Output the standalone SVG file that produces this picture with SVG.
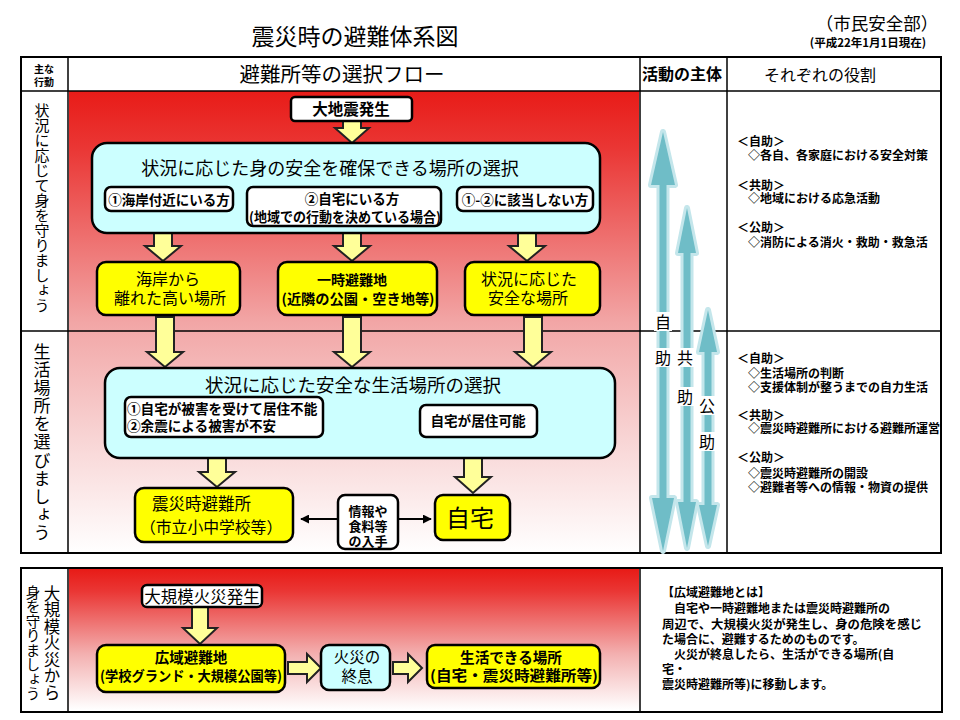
<svg xmlns="http://www.w3.org/2000/svg" width="960" height="720" viewBox="0 0 960 720">
<defs>
<linearGradient id="gTop" gradientUnits="userSpaceOnUse" x1="0" y1="92" x2="0" y2="553">
<stop offset="0" stop-color="#e81c18"/>
<stop offset="0.12" stop-color="#ea3634"/>
<stop offset="0.5" stop-color="#f2a6a6"/>
<stop offset="0.75" stop-color="#f8d4d4"/>
<stop offset="1" stop-color="#ffffff"/>
</linearGradient>
<linearGradient id="gBot" gradientUnits="userSpaceOnUse" x1="0" y1="570" x2="0" y2="710">
<stop offset="0" stop-color="#e81c18"/>
<stop offset="0.15" stop-color="#ea3634"/>
<stop offset="0.6" stop-color="#f3b0b0"/>
<stop offset="1" stop-color="#ffffff"/>
</linearGradient>
<clipPath id="clipRole"><rect x="727" y="330" width="213" height="223"/></clipPath>
<marker id="ah" viewBox="0 0 10 10" refX="9" refY="5" markerWidth="9" markerHeight="9" markerUnits="userSpaceOnUse" orient="auto">
<path d="M0,0 L10,5 L0,10 Z" fill="#000"/>
</marker>
</defs>
<style>
text{font-family:"Noto Sans CJK JP","Noto Sans CJK SC",sans-serif;fill:#000}
.b{font-weight:bold}
.grid{fill:none;stroke:#000;stroke-width:2}
.ln{stroke:#000;stroke-width:1.5}
.cyan{fill:#ccffff;stroke:#000;stroke-width:2.5}
.wbox{fill:#fff;stroke:#000;stroke-width:2.5}
.ybox{fill:#ffff00;stroke:#000;stroke-width:2.5}
.yarr{fill:#ffff99;stroke:#222;stroke-width:2;stroke-linejoin:miter}
.tglow{fill:#c4e6eb;stroke:#c4e6eb;stroke-width:6;stroke-linejoin:round}
.tarr{fill:#6fbdc7}
.tshaft{stroke:#6fbdc7;stroke-width:7}
.tshaftg{stroke:#c4e6eb;stroke-width:13}
.role{font-size:12px;font-weight:bold}
.vt{writing-mode:tb}
</style>

<!-- title -->
<text x="355" y="45" font-size="23" text-anchor="middle">震災時の避難体系図</text>
<text x="877" y="30" font-size="17.5" text-anchor="middle">（市民安全部）</text>
<text x="868" y="47" font-size="11.5" class="b" text-anchor="middle">(平成22年1月1日現在)</text>

<!-- backgrounds -->
<rect x="69" y="91" width="570" height="462" fill="url(#gTop)"/>
<rect x="69" y="569" width="570" height="142" fill="url(#gBot)"/>

<!-- main table -->
<g id="table">
<rect class="grid" x="21" y="57" width="920" height="496"/>
<line class="ln" x1="21" y1="91" x2="941" y2="91"/>
<line class="ln" x1="21" y1="331" x2="941" y2="331"/>
<line class="ln" x1="68" y1="57" x2="68" y2="553"/>
<line class="ln" x1="640" y1="57" x2="640" y2="553"/>
<line class="ln" x1="727" y1="57" x2="727" y2="553"/>
<rect class="grid" x="21" y="568" width="921" height="144"/>
<line class="ln" x1="68" y1="568" x2="68" y2="712"/>
<line class="ln" x1="640" y1="568" x2="640" y2="712"/>
</g>

<!-- headers -->
<g id="headers">
<text x="44" y="73" font-size="10" class="b" text-anchor="middle">主な</text>
<text x="44" y="86" font-size="10" class="b" text-anchor="middle">行動</text>
<text x="342" y="82" font-size="20.5" text-anchor="middle">避難所等の選択フロー</text>
<text x="682" y="80" font-size="16" class="b" text-anchor="middle">活動の主体</text>
<text x="820" y="81" font-size="16" text-anchor="middle">それぞれの役割</text>
</g>

<!-- row labels -->
<g id="rowlabels">
<text class="vt" x="42" y="103" font-size="15">状況に応じて身を守りましょう</text>
<text class="vt" x="42" y="343" font-size="17" letter-spacing="1.1">生活場所を選びましょう</text>
<text class="vt" x="52" y="585" font-size="16.5">大規模火災から</text>
<text class="vt" x="33" y="585" font-size="14.5">身を守りましょう</text>
</g>

<!-- connectors -->
<g id="connectors">
<path class="yarr" d="M343,121 H361 V128 H369 L352,143 L335,128 H343 Z"/>
<path class="yarr" d="M154,213 H172 V246 H181 L163,261 L145,246 H154 Z"/>
<path class="yarr" d="M343,228 H361 V246 H370 L352,261 L334,246 H343 Z"/>
<path class="yarr" d="M518,213 H536 V246 H545 L527,261 L509,246 H518 Z"/>
<path class="yarr" d="M156,317 H174 V352 H183 L165,367 L147,352 H156 Z"/>
<path class="yarr" d="M343,317 H361 V352 H370 L352,367 L334,352 H343 Z"/>
<path class="yarr" d="M524,317 H542 V352 H551 L533,367 L515,352 H524 Z"/>
<path class="yarr" d="M208,440 H226 V472 H235 L217,487 L199,472 H208 Z"/>
<path class="yarr" d="M464,440 H482 V477 H491 L473,493 L455,477 H464 Z"/>
<path class="yarr" d="M192,607 H208 V628 H217 L200,644 L183,628 H192 Z"/>
<path class="yarr" d="M288,662 H307 V654 L321,668 L307,682 V674 H288 Z"/>
<path class="yarr" d="M393,662 H408 V654 L422,668 L408,682 V674 H393 Z"/>
<line x1="338" y1="519" x2="301" y2="519" stroke="#000" stroke-width="2" marker-end="url(#ah)"/>
<line x1="398" y1="519" x2="431" y2="519" stroke="#000" stroke-width="2" marker-end="url(#ah)"/>
</g>

<!-- flow row 1 -->
<g id="n-quake">
<rect class="wbox" x="291" y="97" width="121" height="24" rx="4"/>
<text x="351" y="115" font-size="15.5" class="b" text-anchor="middle">大地震発生</text>
</g>
<g id="n-select1">
<rect class="cyan" x="92" y="143" width="508" height="90" rx="15"/>
<text x="330" y="175" font-size="18" text-anchor="middle">状況に応じた身の安全を確保できる場所の選択</text>
</g>
<g id="n-coast">
<rect class="wbox" x="105" y="187" width="128" height="24" rx="6"/>
<text x="169" y="205" font-size="13.5" class="b" text-anchor="middle">①海岸付近にいる方</text>
</g>
<g id="n-home">
<rect class="wbox" x="247" y="187" width="194" height="39" rx="6"/>
<text x="352" y="204" font-size="13.5" class="b" text-anchor="middle">②自宅にいる方</text>
<text x="345" y="222" font-size="13.5" class="b" text-anchor="middle" textLength="192" lengthAdjust="spacingAndGlyphs">(地域での行動を決めている場合)</text>
</g>
<g id="n-other">
<rect class="wbox" x="457" y="187" width="136" height="24" rx="6"/>
<text x="525" y="205" font-size="13.5" class="b" text-anchor="middle">①-②に該当しない方</text>
</g>
<g id="n-high">
<rect class="ybox" x="97" y="262" width="143" height="53" rx="9"/>
<text x="168" y="285" font-size="16" text-anchor="middle">海岸から</text>
<text x="170" y="304" font-size="16" text-anchor="middle">離れた高い場所</text>
</g>
<g id="n-temp">
<rect class="ybox" x="278" y="262" width="159" height="53" rx="9"/>
<text x="352" y="285" font-size="14" class="b" text-anchor="middle">一時避難地</text>
<text x="358" y="304" font-size="14" class="b" text-anchor="middle" textLength="153" lengthAdjust="spacingAndGlyphs">(近隣の公園・空き地等)</text>
</g>
<g id="n-safe">
<rect class="ybox" x="465" y="262" width="135" height="53" rx="9"/>
<text x="529" y="285" font-size="16" text-anchor="middle">状況に応じた</text>
<text x="528" y="304" font-size="16" text-anchor="middle">安全な場所</text>
</g>

<!-- flow row 2 -->
<g id="n-select2">
<rect class="cyan" x="105" y="368" width="510" height="90" rx="15"/>
<text x="353" y="392" font-size="18.5" text-anchor="middle">状況に応じた安全な生活場所の選択</text>
</g>
<g id="n-unlivable">
<rect class="wbox" x="125" y="397" width="198" height="40" rx="6"/>
<text x="127" y="414" font-size="13.6" class="b">①自宅が被害を受けて居住不能</text>
<text x="127" y="431" font-size="13.6" class="b">②余震による被害が不安</text>
</g>
<g id="n-livable">
<rect class="wbox" x="420" y="405" width="117" height="32" rx="6"/>
<text x="478" y="426" font-size="13.6" class="b" text-anchor="middle">自宅が居住可能</text>
</g>
<g id="n-shelter">
<rect class="ybox" x="135" y="488" width="158" height="54" rx="9"/>
<text x="152" y="510" font-size="16.5">震災時避難所</text>
<text x="140" y="533" font-size="15.8">（市立小中学校等）</text>
</g>
<g id="n-info">
<rect class="wbox" x="338" y="495" width="60" height="54" rx="7"/>
<text x="368" y="516" font-size="13" class="b" text-anchor="middle">情報や</text>
<text x="368" y="531" font-size="13" class="b" text-anchor="middle">食料等</text>
<text x="368" y="546" font-size="13" class="b" text-anchor="middle">の入手</text>
</g>
<g id="n-jitaku">
<rect class="ybox" x="435" y="495" width="75" height="45" rx="8"/>
<text x="470" y="527" font-size="24" text-anchor="middle">自宅</text>
</g>

<!-- actors column -->
<g id="actors">
<line class="tshaftg" x1="663" y1="180" x2="663" y2="505"/>
<line class="tshaftg" x1="687" y1="250" x2="687" y2="505"/>
<line class="tshaftg" x1="708" y1="350" x2="708" y2="508"/>
<polygon class="tglow" points="663,132 675,185 651,185"/>
<polygon class="tglow" points="663,551 674,498 652,498"/>
<polygon class="tglow" points="687,208 696,253 678,253"/>
<polygon class="tglow" points="687,548 696,502 678,502"/>
<polygon class="tglow" points="708,310 717,352 699,352"/>
<polygon class="tglow" points="708,546 717,505 699,505"/>
<line class="tshaft" x1="663" y1="180" x2="663" y2="505"/>
<line class="tshaft" x1="687" y1="250" x2="687" y2="505"/>
<line class="tshaft" x1="708" y1="350" x2="708" y2="508"/>
<polygon class="tarr" points="663,132 675,185 651,185"/>
<polygon class="tarr" points="663,551 674,498 652,498"/>
<polygon class="tarr" points="687,208 696,253 678,253"/>
<polygon class="tarr" points="687,548 696,502 678,502"/>
<polygon class="tarr" points="708,310 717,352 699,352"/>
<polygon class="tarr" points="708,546 717,505 699,505"/>
<rect x="654" y="312" width="18" height="19" fill="#fff"/>
<rect x="654" y="348" width="18" height="19" fill="#fff"/>
<rect x="676" y="348" width="18" height="19" fill="#fff"/>
<rect x="676" y="387" width="18" height="19" fill="#fff"/>
<rect x="698" y="396" width="18" height="19" fill="#fff"/>
<rect x="698" y="432" width="18" height="19" fill="#fff"/>
<text x="663" y="328" font-size="16" text-anchor="middle">自</text>
<text x="663" y="364" font-size="16" text-anchor="middle">助</text>
<text x="685" y="364" font-size="16" text-anchor="middle">共</text>
<text x="685" y="403" font-size="16" text-anchor="middle">助</text>
<text x="707" y="412" font-size="16" text-anchor="middle">公</text>
<text x="707" y="448" font-size="16" text-anchor="middle">助</text>
</g>

<!-- roles -->
<g id="roles1">
<text class="role" x="737" y="146">＜自助＞</text>
<text class="role" x="748" y="160">◇各自、各家庭における安全対策</text>
<text class="role" x="737" y="190">＜共助＞</text>
<text class="role" x="748" y="203">◇地域における応急活動</text>
<text class="role" x="737" y="232">＜公助＞</text>
<text class="role" x="748" y="247">◇消防による消火・救助・救急活</text>
</g>
<g id="roles2" clip-path="url(#clipRole)">
<text class="role" x="737" y="363">＜自助＞</text>
<text class="role" x="748" y="378">◇生活場所の判断</text>
<text class="role" x="748" y="392">◇支援体制が整うまでの自力生活</text>
<text class="role" x="737" y="420">＜共助＞</text>
<text class="role" x="748" y="433">◇震災時避難所における避難所運営</text>
<text class="role" x="737" y="462">＜公助＞</text>
<text class="role" x="748" y="478">◇震災時避難所の開設</text>
<text class="role" x="748" y="492">◇避難者等への情報・物資の提供</text>
</g>

<!-- bottom section -->
<g id="n-fire">
<rect class="wbox" x="142" y="585" width="120" height="22" rx="5"/>
<text x="202" y="603" font-size="16.5" text-anchor="middle">大規模火災発生</text>
</g>
<g id="n-wide">
<rect class="ybox" x="97" y="645" width="188" height="47" rx="9"/>
<text x="191" y="663" font-size="14.5" class="b" text-anchor="middle">広域避難地</text>
<text x="191" y="681" font-size="14" class="b" text-anchor="middle" textLength="182" lengthAdjust="spacingAndGlyphs">(学校グランド・大規模公園等)</text>
</g>
<g id="n-end">
<rect class="cyan" x="321" y="645" width="69" height="45" rx="8"/>
<text x="357" y="663" font-size="15.5" text-anchor="middle">火災の</text>
<text x="357" y="682" font-size="15.5" text-anchor="middle">終息</text>
</g>
<g id="n-live">
<rect class="ybox" x="427" y="645" width="173" height="43" rx="8"/>
<text x="511" y="663" font-size="14.6" class="b" text-anchor="middle">生活できる場所</text>
<text x="514" y="681" font-size="14.6" class="b" text-anchor="middle" textLength="168" lengthAdjust="spacingAndGlyphs">(自宅・震災時避難所等)</text>
</g>
<g id="note">
<text class="role" font-size="12.5" x="662" y="597">【広域避難地とは】</text>
<text class="role" font-size="12.5" x="662" y="613">　自宅や一時避難地または震災時避難所の</text>
<text class="role" font-size="12.5" x="662" y="629" textLength="260" lengthAdjust="spacingAndGlyphs">周辺で、大規模火災が発生し、身の危険を感じ</text>
<text class="role" font-size="12.5" x="662" y="644">た場合に、避難するためのものです。</text>
<text class="role" font-size="12.5" x="662" y="659">　火災が終息したら、生活ができる場所(自</text>
<text class="role" font-size="12.5" x="662" y="674">宅・</text>
<text class="role" font-size="12.5" x="662" y="689">震災時避難所等)に移動します。</text>
</g>
</svg>
